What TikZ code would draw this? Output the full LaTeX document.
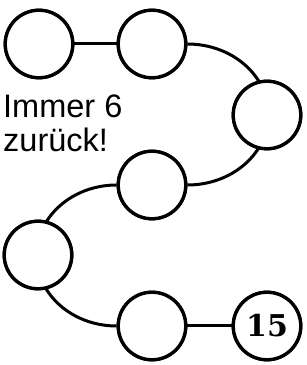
\documentclass[tikz,border=0pt]{standalone}
\usepackage{fontspec}
\newfontfamily\labelfont{Liberation Sans}
\newfontfamily\numfont{DejaVu Serif}
\begin{document}
\begin{tikzpicture}[
  stone/.style={circle, draw=black, fill=white, line width=3.3pt, minimum size=67.5pt, inner sep=0pt},
  link/.style={draw=black, line width=3pt}
]
\useasboundingbox (0pt,0pt) rectangle (306pt,365pt);
\node[stone] (c1) at (39pt,321pt) {};
\node[stone] (c2) at (152pt,321pt) {};
\node[stone] (c3) at (267pt,250pt) {};
\node[stone] (c4) at (152pt,180pt) {};
\node[stone] (c5) at (38pt,110pt) {};
\node[stone] (c6) at (152pt,39pt) {};
\node[stone] (c7) at (267pt,39pt) {};
\draw[link] (c1) -- (c2);
\draw[link] (c6) -- (c7);
\draw[link] (c2.east) arc[start angle=90, end angle=-90, x radius=81pt, y radius=70.5pt];
\draw[link] (c4.west) arc[start angle=90, end angle=270, x radius=80pt, y radius=70.5pt];
\node[stone] at (c3) {};
\node[stone] at (c5) {};
\node[stone] at (c1) {};
\node[stone] at (c2) {};
\node[stone] at (c4) {};
\node[stone] at (c6) {};
\node[stone, font=\numfont\bfseries\fontsize{30}{30}\selectfont] (n15) at (c7) {15};
\node[anchor=north west, inner sep=0pt, align=left, font=\labelfont\fontsize{32.5}{34}\selectfont] (txt) at (3pt,270pt) {Immer 6\\zurück!};
\end{tikzpicture}
\end{document}
